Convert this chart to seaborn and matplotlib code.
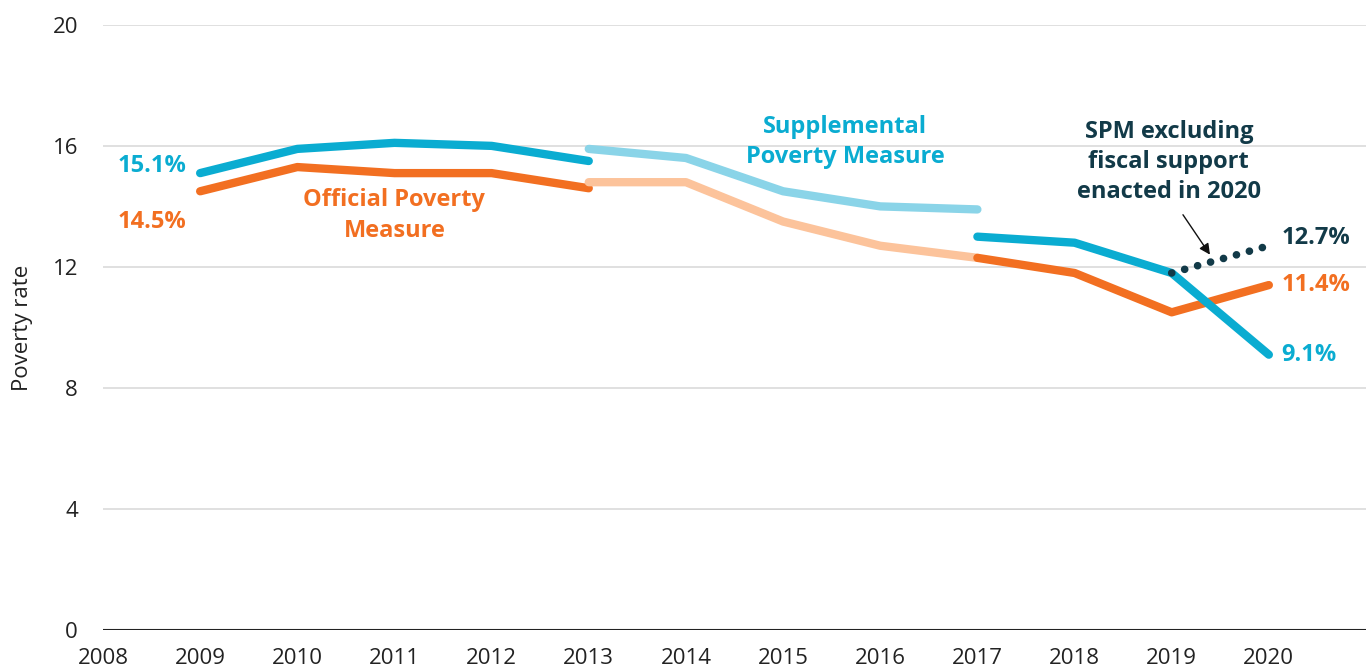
import pandas as pd
import numpy as np
import matplotlib.pyplot as plt
import seaborn as sns

# Poverty rates (percent)
spm_years_a = [2009, 2010, 2011, 2012, 2013]
spm_vals_a = [15.1, 15.9, 16.1, 16.0, 15.5]
spm_years_b = [2013, 2014, 2015, 2016, 2017]
spm_vals_b = [15.9, 15.6, 14.5, 14.0, 13.9]
spm_years_c = [2017, 2018, 2019, 2020]
spm_vals_c = [13.0, 12.8, 11.8, 9.1]

opm_years_a = [2009, 2010, 2011, 2012, 2013]
opm_vals_a = [14.5, 15.3, 15.1, 15.1, 14.6]
opm_years_b = [2013, 2014, 2015, 2016, 2017]
opm_vals_b = [14.8, 14.8, 13.5, 12.7, 12.3]
opm_years_c = [2017, 2018, 2019, 2020]
opm_vals_c = [12.3, 11.8, 10.5, 11.4]

excl_years = [2019, 2020]
excl_vals = [11.8, 12.7]

x_ticks = list(range(2008, 2021))
y_ticks = [0, 4, 8, 12, 16, 20]

BLUE = '#0AACD1'
ORANGE = '#F26F21'
LBLUE = '#8AD4E8'
LORANGE = '#FCC39B'
NAVY = '#123A48'

sns.set_theme(style='white')
plt.rcParams['font.family'] = ['Open Sans', 'DejaVu Sans']

fig = plt.figure(figsize=(13.66, 6.71), dpi=100)
ax = fig.add_axes([0.0754, 0.061, 0.9246, 0.902])

def seg(years, vals, color, **kw):
    df = pd.DataFrame({'year': years, 'rate': vals})
    sns.lineplot(data=df, x='year', y='rate', color=color, linewidth=6,
                 solid_capstyle='round', solid_joinstyle='round', ax=ax, **kw)

seg(opm_years_a, opm_vals_a, ORANGE)
seg(opm_years_b, opm_vals_b, LORANGE)
seg(opm_years_c, opm_vals_c, ORANGE)
seg(spm_years_a, spm_vals_a, BLUE)
seg(spm_years_b, spm_vals_b, LBLUE)
seg(spm_years_c, spm_vals_c, BLUE)

df_ex = pd.DataFrame({'year': excl_years, 'rate': excl_vals})
sns.lineplot(data=df_ex, x='year', y='rate', color=NAVY, linewidth=5.5,
             linestyle=(0, (0.01, 1.75)), dash_capstyle='round', ax=ax)

ax.set_xlim(2008, 2021)
ax.set_ylim(0, 20)
ax.set_xticks(x_ticks)
ax.set_yticks(y_ticks)
ax.grid(axis='y', color='#DADADA', linewidth=1.2)
ax.axhline(0, color='#222222', linewidth=1.5, zorder=3)
for s in ax.spines.values():
    s.set_visible(False)
ax.tick_params(axis='both', length=0, labelsize=16, colors='#222222')
ax.tick_params(axis='x', pad=13)
ax.tick_params(axis='y', pad=18)
ax.set_xlabel('')
ax.set_ylabel('Poverty rate', fontsize=16, color='#222222', labelpad=14)

txt = dict(fontsize=17, fontweight='bold')
ax.text(2008.86, 15.34, '15.1%', color=BLUE, ha='right', va='center', **txt)
ax.text(2008.86, 13.5, '14.5%', color=ORANGE, ha='right', va='center', **txt)
ax.text(2011.0, 13.7, 'Official Poverty\nMeasure', color=ORANGE, ha='center',
        va='center', linespacing=1.35, **txt)
ax.text(2015.64, 16.13, 'Supplemental\nPoverty Measure', color=BLUE, ha='center',
        va='center', linespacing=1.35, **txt)
ax.text(2018.97, 15.47, 'SPM excluding\nfiscal support\nenacted in 2020', color=NAVY,
        ha='center', va='center', linespacing=1.35, **txt)
ax.text(2020.13, 12.96, '12.7%', color=NAVY, ha='left', va='center', **txt)
ax.text(2020.13, 11.4, '11.4%', color=ORANGE, ha='left', va='center', **txt)
ax.text(2020.13, 9.09, '9.1%', color=BLUE, ha='left', va='center', **txt)

ax.annotate('', xy=(2019.41, 12.33), xytext=(2019.1, 13.8),
            arrowprops=dict(arrowstyle='-|>', color='#111111', lw=1.0,
                            mutation_scale=16))

fig.savefig('out.png', dpi=100)
